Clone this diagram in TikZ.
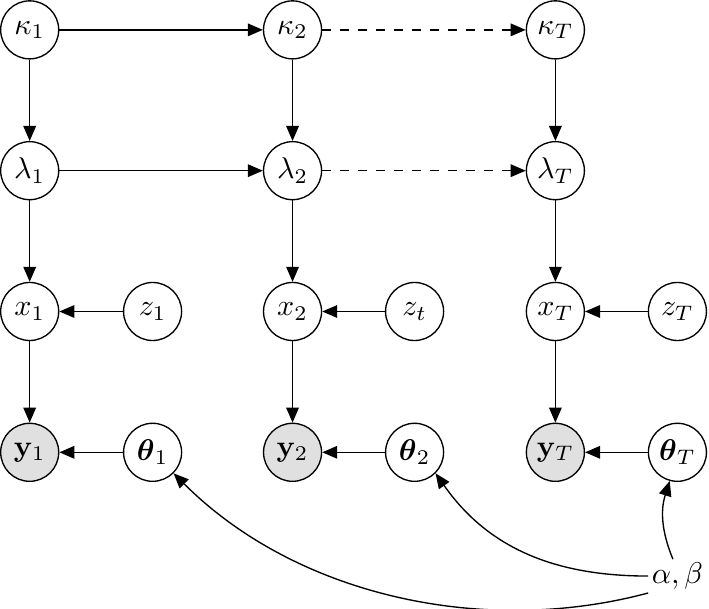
\documentclass[tikz,border=0pt]{standalone}
\usepackage{amsmath}
\usetikzlibrary{positioning,arrows.meta,calc}
\begin{document}
\begin{tikzpicture}[node distance=1.65cm,
    var/.style={draw, circle, minimum size=0.68cm, inner sep=0pt, line width=0.45pt},
    obs/.style={var, fill=black!12},
    flecha/.style={-{Triangle[length=5pt,width=4.2pt]}, line width=0.45pt}]
    % Nodos
    \node[var] (k1) {$\kappa_1$};
    \node[var, right of=k1, xshift=1.43cm] (k2) {$\kappa_2$};
    \node[var, right of=k2, xshift=1.43cm] (kT) {$\kappa_T$};

    \node[var, below of=k1] (l1) {$\lambda_1$};
    \node[var, below of=k2] (l2) {$\lambda_2$};
    \node[var, below of=kT] (lT) {$\lambda_T$};

    \node[var, below of=l1] (x1) {$x_1$};
    \node[var, below of=l2] (x2) {$x_2$};
    \node[var, below of=lT] (xT) {$x_T$};
    \node[var, right of=x1, xshift=-0.21cm] (z1) {$z_1$};
    \node[var, right of=x2, xshift=-0.22cm] (z2) {$z_t$};
    \node[var, right of=xT, xshift=-0.22cm] (zT) {$z_T$};

    \node[obs, below of=x1] (y1) {$\mathbf{y}_1$};
    \node[obs, below of=x2] (y2) {$\mathbf{y}_2$};
    \node[obs, below of=xT] (yT) {$\mathbf{y}_T$};
    \node[var, right of=y1, xshift=-0.21cm] (th1) {$\boldsymbol{\theta}_1$};
    \node[var, right of=y2, xshift=-0.22cm] (th2) {$\boldsymbol{\theta}_2$};
    \node[var, right of=yT, xshift=-0.22cm] (thT) {$\boldsymbol{\theta}_T$};

    \node[below of=thT, yshift=0.2cm, inner sep=1pt] (ab) {$\alpha,\beta$};

    \useasboundingbox ($(k1.center)+(-0.34,0.35)$) rectangle ++(8.30,-7.13);

    % Aristas
    \draw[flecha] (k1) -- (k2);
    \draw[flecha, dashed] (k2) -- (kT);
    \draw[flecha] (l1) -- (l2);
    \draw[flecha, dashed] (l2) -- (lT);
    \foreach \c in {1,2,T} {
        \draw[flecha] (k\c) -- (l\c);
        \draw[flecha] (l\c) -- (x\c);
        \draw[flecha] (x\c) -- (y\c);
        \draw[flecha] (z\c) -- (x\c);
        \draw[flecha] (th\c) -- (y\c);
    }
    \draw[flecha] (ab.105) to[bend left=20] (thT.255);
    \draw[flecha] (ab.west) to[out=180, in=-55] (th2.-45);
    \draw[flecha] (ab.south west) to[out=195, in=-45, looseness=0.9] (th1.-45);
\end{tikzpicture}
\end{document}
